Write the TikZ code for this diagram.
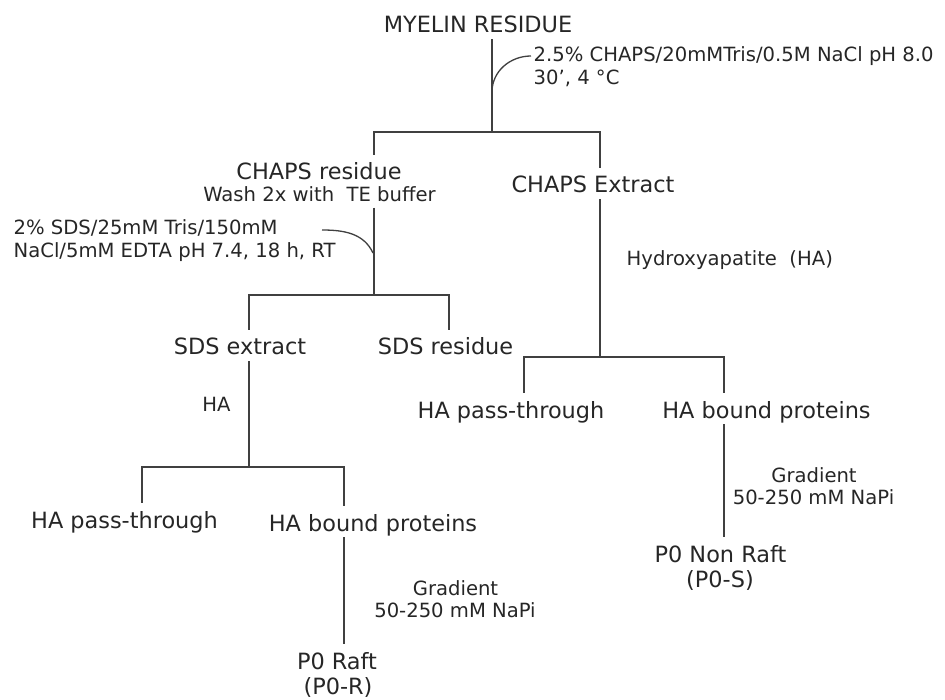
\documentclass[tikz,border=0pt]{standalone}
\usepackage{fontspec}
\setmainfont{DejaVu Sans}
\usepackage{xcolor}
\usepackage{tikz}

\begin{document}
\begin{tikzpicture}[
  x=1pt, y=-1pt,
  line width=1.3pt,
  lbl/.style={font=\fontsize{22.4}{26}\selectfont, text=black!85, inner sep=0pt, text height=24.6pt, text depth=5.6pt, anchor=base},
  note/.style={font=\fontsize{19.6}{23}\selectfont, text=black!85, inner sep=0pt, text height=15pt, text depth=5pt, anchor=base},
  link/.style={draw=black!75}
]
\useasboundingbox (0,0) rectangle (945,700);

% fractions
\node[lbl] (myelin) at (478,33) {MYELIN RESIDUE};
\node[lbl] (chapsres) at (319,180) {CHAPS residue};
\node[note] (wash) at (319.5,202) {Wash 2x with\ \ TE buffer};
\node[lbl] (chapsext) at (593,193) {CHAPS Extract};
\node[lbl] (sdsext) at (240,355) {SDS extract};
\node[lbl] (sdsres) at (445.5,355) {SDS residue};
\node[lbl] (hapt1) at (124.5,528) {HA pass-through};
\node[lbl] (hbp1) at (373,531) {HA bound proteins};
\node[lbl] (raft) at (337,669) {P0 Raft};
\node[lbl] (raftid) at (338,694) {(P0-R)};
\node[lbl] (hapt2) at (511,418) {HA pass-through};
\node[lbl] (hbp2) at (766.5,418) {HA bound proteins};
\node[lbl] (nonraft) at (720.5,562) {P0 Non Raft};
\node[lbl] (nonraftid) at (720,587) {(P0-S)};

% conditions
\node[note, anchor=base west] (cond1a) at (533,62) {2.5\% CHAPS/20mMTris/0.5M NaCl pH 8.0};
\node[note, anchor=base west] (cond1b) at (533,85) {30', 4 °C};
\node[note, anchor=base west] (cond2a) at (13,235) {2\% SDS/25mM Tris/150mM};
\node[note, anchor=base west] (cond2b) at (13,258) {NaCl/5mM EDTA pH 7.4, 18 h, RT};
\node[note, anchor=base west] (hydro) at (626,266) {Hydroxyapatite\ \ (HA)};
\node[note] (ha) at (216.5,411) {HA};
\node[note] (grad1) at (455.5,595) {Gradient};
\node[note] (napi1) at (455,617) {50-250 mM NaPi};
\node[note] (grad2) at (814,482) {Gradient};
\node[note] (napi2) at (813.5,504) {50-250 mM NaPi};

% junctions
\coordinate (j1) at (492,132);
\coordinate (j1l) at (374,132);
\coordinate (j1r) at (600,132);
\coordinate (j2) at (374,295);
\coordinate (j2l) at (249,295);
\coordinate (j2r) at (449,295);
\coordinate (j3) at (249,467);
\coordinate (j3l) at (142,467);
\coordinate (j3r) at (344,467);
\coordinate (j4) at (600,357);
\coordinate (j4l) at (524,357);
\coordinate (j4r) at (724,357);
\coordinate (c1s) at (492,92);
\coordinate (c1e) at (531,56);
\coordinate (c2s) at (373,253);
\coordinate (c2e) at (322,230);

% tree
\draw[link] (myelin.south -| j1) -- (j1);
\draw[link] (chapsres.north -| j1l) -- (j1l) -- (j1r) -- (chapsext.north -| j1r);
\draw[link] (wash.south -| j2) -- (j2);
\draw[link] (sdsext.north -| j2l) -- (j2l) -- (j2r) -- (sdsres.north -| j2r);
\draw[link] (sdsext.south -| j3) -- (j3);
\draw[link] (hapt1.north -| j3l) -- (j3l) -- (j3r) -- (hbp1.north -| j3r);
\draw[link] (hbp1.south -| j3r) -- (raft.north -| j3r);
\draw[link] (chapsext.south -| j4) -- (j4);
\draw[link] (hapt2.north -| j4l) -- (j4l) -- (j4r) -- (hbp2.north -| j4r);
\draw[link] (hbp2.south -| j4r) -- (nonraft.north -| j4r);

% hooks to the conditions
\draw[link] (c1s) to[out=90, in=180] (c1e);
\draw[link] (c2s) to[out=115, in=0] (c2e);
\end{tikzpicture}
\end{document}
